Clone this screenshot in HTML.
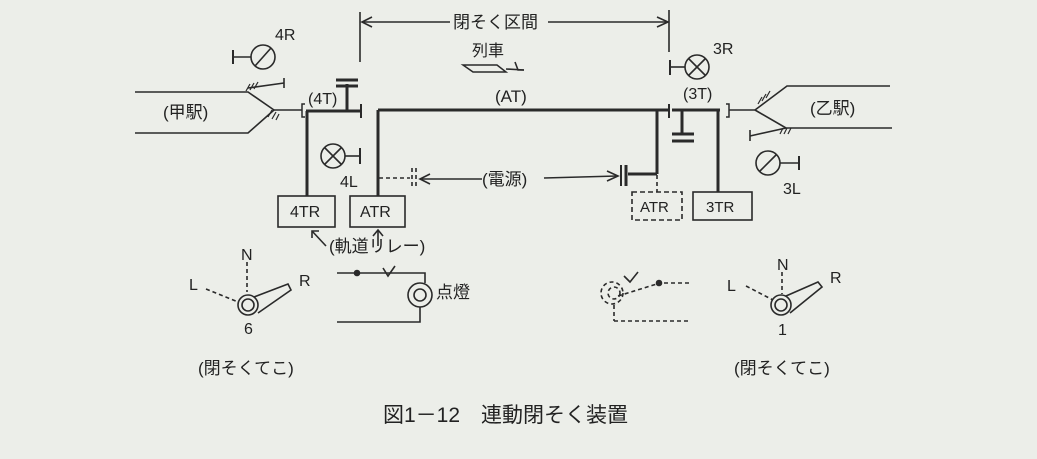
<!DOCTYPE html>
<html><head><meta charset="utf-8"><style>
html,body{margin:0;padding:0;background:#eceee9;}
svg{display:block}
text{font-family:"Liberation Sans","Noto Sans CJK JP",sans-serif;fill:#222}
</style></head><body>
<svg width="1037" height="459" viewBox="0 0 1037 459" xmlns="http://www.w3.org/2000/svg">
<rect width="1037" height="459" fill="#eceee9"/>
<g stroke="#2a2a2a" fill="none" stroke-width="1.6">
<line x1="360" y1="12" x2="360" y2="62"/>
<line x1="362" y1="22" x2="450" y2="22"/>
<polyline points="372,17 362,22 372,27"/>
<line x1="548" y1="22" x2="667" y2="22"/>
<polyline points="657,17 668,22 657,27"/>
<line x1="669" y1="10" x2="669" y2="52"/>
<polygon points="463,65 497,65 506,72 473,72" stroke-width="1.5"/>
<line x1="506" y1="69" x2="524" y2="70"/>
<polyline points="515,62 518,70 524,70"/>
<circle cx="263" cy="57" r="12"/>
<line x1="255" y1="66" x2="271" y2="48"/>
<line x1="251" y1="57" x2="233" y2="57"/>
<line x1="233" y1="50" x2="233" y2="64" stroke-width="2"/>
<polyline points="135,92 248,92 274,110"/>
<polyline points="135,133 248,133 274,110"/>
<line x1="248" y1="88" x2="284" y2="83"/>
<line x1="284" y1="78" x2="284" y2="88"/>
<path d="M246,91 l4,-7 M250,90 l4,-7 M254,89 l4,-7 M268,117 l4,-7 M272,119 l4,-7 M276,120 l3,-6" stroke-width="1.2"/>
<line x1="274" y1="110" x2="302" y2="110"/>
<path d="M305,104 h-3 v13 h3" stroke-width="1.5"/>
<line x1="306" y1="111" x2="361" y2="111" stroke-width="3"/>
<line x1="347" y1="111" x2="347" y2="84" stroke-width="3"/>
<line x1="336" y1="80" x2="358" y2="80" stroke-width="3"/>
<line x1="336" y1="86" x2="358" y2="86" stroke-width="3"/>
<line x1="361" y1="104" x2="361" y2="118" stroke-width="2"/>
<line x1="378" y1="110" x2="669" y2="110" stroke-width="3"/>
<line x1="669" y1="104" x2="669" y2="118" stroke-width="2"/>
<line x1="672" y1="110" x2="720" y2="110" stroke-width="3"/>
<path d="M726,104 h3 v13 h-3" stroke-width="1.5"/>
<line x1="729" y1="110" x2="755" y2="110"/>
<line x1="307" y1="111" x2="307" y2="196" stroke-width="3"/>
<line x1="378" y1="110" x2="378" y2="196" stroke-width="3"/>
<line x1="657" y1="110" x2="657" y2="174" stroke-width="3"/>
<line x1="628" y1="174" x2="657" y2="174" stroke-width="3"/>
<line x1="682" y1="110" x2="682" y2="134" stroke-width="3"/>
<line x1="672" y1="134" x2="694" y2="134" stroke-width="3"/>
<line x1="672" y1="141" x2="694" y2="141" stroke-width="3"/>
<line x1="718" y1="110" x2="718" y2="192" stroke-width="3"/>
<line x1="621" y1="165" x2="621" y2="186" stroke-width="2"/>
<line x1="626" y1="165" x2="626" y2="186" stroke-width="3"/>
<line x1="657" y1="175" x2="657" y2="192" stroke-dasharray="4,3"/>
<rect x="632" y="192" width="50" height="28" stroke-dasharray="5,3"/>
<line x1="379" y1="178" x2="410" y2="178" stroke-dasharray="4,3"/>
<line x1="412" y1="168" x2="412" y2="188" stroke-dasharray="4,3"/>
<line x1="416" y1="168" x2="416" y2="188" stroke-dasharray="4,3"/>
<line x1="420" y1="179" x2="482" y2="179"/>
<polyline points="430,174 420,179 430,184"/>
<line x1="544" y1="178" x2="617" y2="176"/>
<polyline points="607,171 618,176 607,181"/>
<circle cx="333" cy="156" r="12"/>
<line x1="325" y1="148" x2="341" y2="164"/>
<line x1="341" y1="148" x2="325" y2="164"/>
<line x1="345" y1="156" x2="360" y2="156"/>
<line x1="360" y1="148" x2="360" y2="164" stroke-width="2"/>
<rect x="278" y="196" width="57" height="31"/>
<rect x="350" y="196" width="55" height="31"/>
<rect x="693" y="192" width="59" height="28"/>
<line x1="326" y1="246" x2="312" y2="231"/>
<polyline points="312,238 312,231 319,231"/>
<line x1="378" y1="246" x2="378" y2="230"/>
<polyline points="373,236 378,230 383,236"/>
<circle cx="697" cy="67" r="12"/>
<line x1="689" y1="59" x2="705" y2="75"/>
<line x1="705" y1="59" x2="689" y2="75"/>
<line x1="685" y1="67" x2="670" y2="67"/>
<line x1="670" y1="60" x2="670" y2="75" stroke-width="2"/>
<polyline points="755,110 787,86 890,86"/>
<polyline points="755,110 786,128 892,128"/>
<line x1="750" y1="136" x2="786" y2="128"/>
<line x1="750" y1="130" x2="750" y2="141"/>
<path d="M758,104 l4,-7 M762,101 l4,-7 M766,98 l4,-7 M780,134 l3,-6 M784,134 l3,-6 M788,134 l3,-6" stroke-width="1.2"/>
<circle cx="768" cy="163" r="12"/>
<line x1="760" y1="171" x2="776" y2="155"/>
<line x1="780" y1="163" x2="799" y2="163"/>
<line x1="799" y1="156" x2="799" y2="170" stroke-width="2"/>
<line x1="247" y1="262" x2="247" y2="292" stroke-dasharray="4,3"/>
<line x1="206" y1="289" x2="238" y2="302" stroke-dasharray="4,3"/>
<circle cx="248" cy="305" r="10"/>
<circle cx="248" cy="305" r="6"/>
<polyline points="254,297 288,284 291,290 258,313"/>
<polyline points="337,273 425,273 425,283"/>
<circle cx="357" cy="273" r="2.5" fill="#2a2a2a"/>
<polyline points="383,268 388,276 395,266"/>
<circle cx="420" cy="295" r="12"/>
<circle cx="420" cy="295" r="6"/>
<polyline points="337,322 420,322 420,307"/>
<g stroke-dasharray="4,3">
<circle cx="612" cy="293" r="11"/>
<circle cx="614" cy="293" r="6"/>
<line x1="618" y1="296" x2="660" y2="283"/>
<line x1="664" y1="283" x2="690" y2="283"/>
<line x1="614" y1="305" x2="614" y2="321"/>
<line x1="614" y1="321" x2="690" y2="321"/>
</g>
<polyline points="624,276 630,282 638,272"/>
<circle cx="659" cy="283" r="2.5" fill="#2a2a2a"/>
<line x1="782" y1="272" x2="782" y2="294" stroke-dasharray="4,3"/>
<line x1="746" y1="286" x2="773" y2="300" stroke-dasharray="4,3"/>
<circle cx="781" cy="305" r="10"/>
<circle cx="781" cy="305" r="6"/>
<polyline points="786,296 818,282 822,287 790,313"/>
</g>
<g style="font-size:16px">
<text x="453" y="28" style="font-size:17px">閉そく区間</text>
<text x="472" y="56">列車</text>
<text x="275" y="40">4R</text>
<text x="163" y="118" style="font-size:17px">(甲駅)</text>
<text x="308" y="104">(4T)</text>
<text x="495" y="102" style="font-size:17px">(AT)</text>
<text x="683" y="99">(3T)</text>
<text x="810" y="114" style="font-size:17px">(乙駅)</text>
<text x="713" y="54">3R</text>
<text x="340" y="187">4L</text>
<text x="482" y="185" style="font-size:17px">(電源)</text>
<text x="783" y="194">3L</text>
<text x="290" y="217">4TR</text>
<text x="360" y="217">ATR</text>
<text x="640" y="212" style="font-size:15px">ATR</text>
<text x="706" y="212" style="font-size:15px">3TR</text>
<text x="329" y="252" style="font-size:17px">(軌道リレー)</text>
<text x="241" y="260">N</text>
<text x="189" y="290">L</text>
<text x="299" y="286">R</text>
<text x="244" y="334">6</text>
<text x="436" y="298" style="font-size:17px">点燈</text>
<text x="777" y="270">N</text>
<text x="727" y="291">L</text>
<text x="830" y="283">R</text>
<text x="778" y="335">1</text>
<text x="198" y="374" style="font-size:17px">(閉そくてこ)</text>
<text x="734" y="374" style="font-size:17px">(閉そくてこ)</text>
<text x="383" y="422" style="font-size:21px">図1－12　連動閉そく装置</text>
</g>
</svg>
</body></html>
